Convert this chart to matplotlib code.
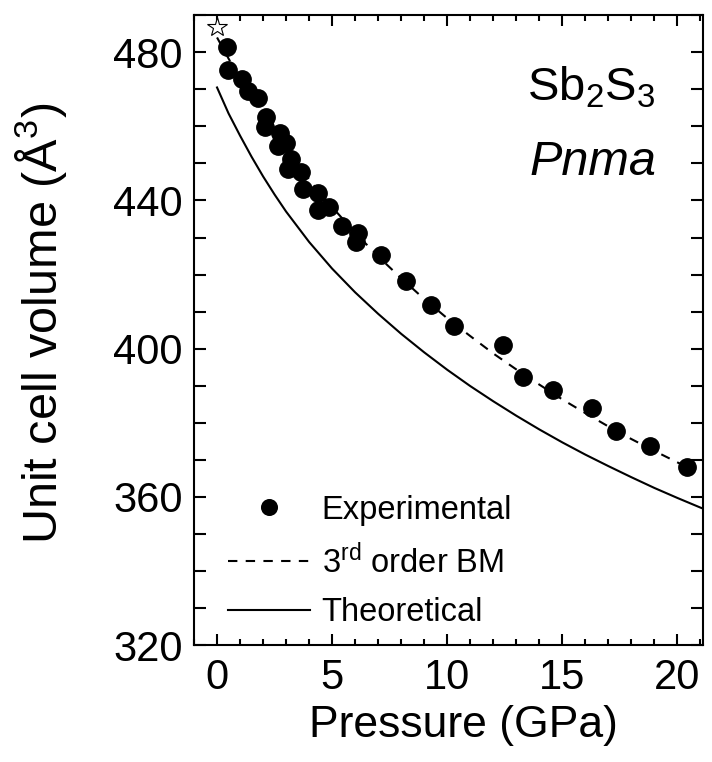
import matplotlib
matplotlib.use("Agg")
import matplotlib.pyplot as plt
from matplotlib.ticker import MultipleLocator

plt.rcParams['font.family'] = ['Liberation Sans', 'DejaVu Sans']
plt.rcParams['mathtext.fontset'] = 'custom'
plt.rcParams['mathtext.rm'] = 'Liberation Sans'
plt.rcParams['mathtext.it'] = 'Liberation Sans:italic'

# Experimental unit-cell volumes of Sb2S3 (Pnma)
exp_pressure = [0.42, 0.49, 1.07, 1.35, 1.78, 2.12, 2.07, 2.72, 2.65, 3.00,
                3.23, 3.08, 3.66, 3.73, 4.38, 4.38, 4.88, 5.42, 6.14, 6.04,
                7.12, 8.20, 9.31, 10.29, 12.42, 13.31, 14.58, 16.27, 17.35,
                18.82, 20.41]
exp_volume = [481.4, 475.2, 472.9, 469.6, 467.7, 462.6, 459.9, 458.1, 454.7, 455.4,
              451.3, 448.6, 447.7, 443.0, 441.9, 437.4, 438.3, 433.1, 431.1, 428.8,
              425.2, 418.2, 411.9, 406.1, 401.1, 392.4, 388.8, 383.9, 377.7,
              373.7, 368.1]

# Ambient-pressure reference volume
ref_pressure = [0.0]
ref_volume = [486.8]

# 3rd-order Birch-Murnaghan curve through the data
bm_pressure = [0, 0.5, 1, 1.5, 2, 2.5, 3, 4, 5, 6, 7, 8, 9, 10, 11, 12, 13,
               14, 15, 16, 17, 18, 19, 20, 20.5]
bm_volume = [484.0, 478.3, 472.9, 467.8, 462.9, 458.3, 453.9, 445.7, 438.2,
             431.3, 424.9, 419.0, 413.4, 408.2, 403.4, 398.7, 394.4, 390.3,
             386.3, 382.6, 379.0, 375.6, 372.4, 369.3, 367.8]

# Theoretical equation of state
th_pressure = [0, 0.5, 1, 1.5, 2, 2.5, 3, 4, 5, 6, 7, 8, 9, 10, 11, 12, 13,
               14, 15, 16, 17, 18, 19, 20, 21, 21.5]
th_volume = [470.5, 463.5, 457.5, 451.8, 446.5, 441.6, 437.0, 428.8, 421.6,
             415.2, 409.4, 404.0, 399.0, 394.3, 389.9, 385.8, 381.9, 378.2,
             374.7, 371.4, 368.3, 365.3, 362.4, 359.7, 357.1, 355.9]

x_major = [0, 5, 10, 15, 20]
y_major = [320, 360, 400, 440, 480]

fig = plt.figure(figsize=(7.12, 7.62), dpi=100)
ax = fig.add_axes([0.2725, 0.1535, 0.7145, 0.8265])

ax.plot(th_pressure, th_volume, color='black', lw=1.5, label='Theoretical')
ax.plot(bm_pressure, bm_volume, color='black', lw=1.5, dashes=(4.5, 4),
        label=r'3$^{\mathrm{rd}}$ order BM')
ax.plot(exp_pressure, exp_volume, 'o', color='black', ms=12.5, mec='black',
        label='Experimental')
ax.plot(ref_pressure, ref_volume, '*', ms=15, mfc='white', mec='black', mew=0.8,
        clip_on=False)

ax.set_xlim(-1.0, 21.1)
ax.set_ylim(320, 490)
ax.set_xticks(x_major)
ax.set_yticks(y_major)
ax.xaxis.set_minor_locator(MultipleLocator(1))
ax.yaxis.set_minor_locator(MultipleLocator(10))

ax.tick_params(which='both', direction='in', top=True, right=True, width=1.5,
               labelsize=30, pad=8)
ax.tick_params(axis='x', which='major', length=8, pad=9)
ax.tick_params(axis='x', which='minor', length=4)
ax.tick_params(axis='y', which='both', length=8.5, pad=8)
for s in ax.spines.values():
    s.set_linewidth(1.5)

ax.set_xlabel('Pressure (GPa)', fontsize=32)
ax.xaxis.set_label_coords(0.53, -0.095)
ax.set_ylabel('Unit cell volume (Å$^3$)', fontsize=35)
ax.yaxis.set_label_coords(-0.245, 0.51)

ax.text(0.782, 0.865, r'Sb$_{2}$S$_{3}$', transform=ax.transAxes, fontsize=34,
        ha='center', va='baseline')
ax.text(0.784, 0.746, 'Pnma', transform=ax.transAxes, fontsize=35,
        style='italic', ha='center', va='baseline')

handles, labels = ax.get_legend_handles_labels()
order = [2, 1, 0]
leg = ax.legend([handles[i] for i in order], [labels[i] for i in order],
                loc='lower left', bbox_to_anchor=(0.01, -0.02), frameon=False,
                fontsize=23.5, handlelength=2.5, handletextpad=0.35,
                labelspacing=0.55, numpoints=1, markerscale=0.9)

fig.savefig('out.png', dpi=100)
